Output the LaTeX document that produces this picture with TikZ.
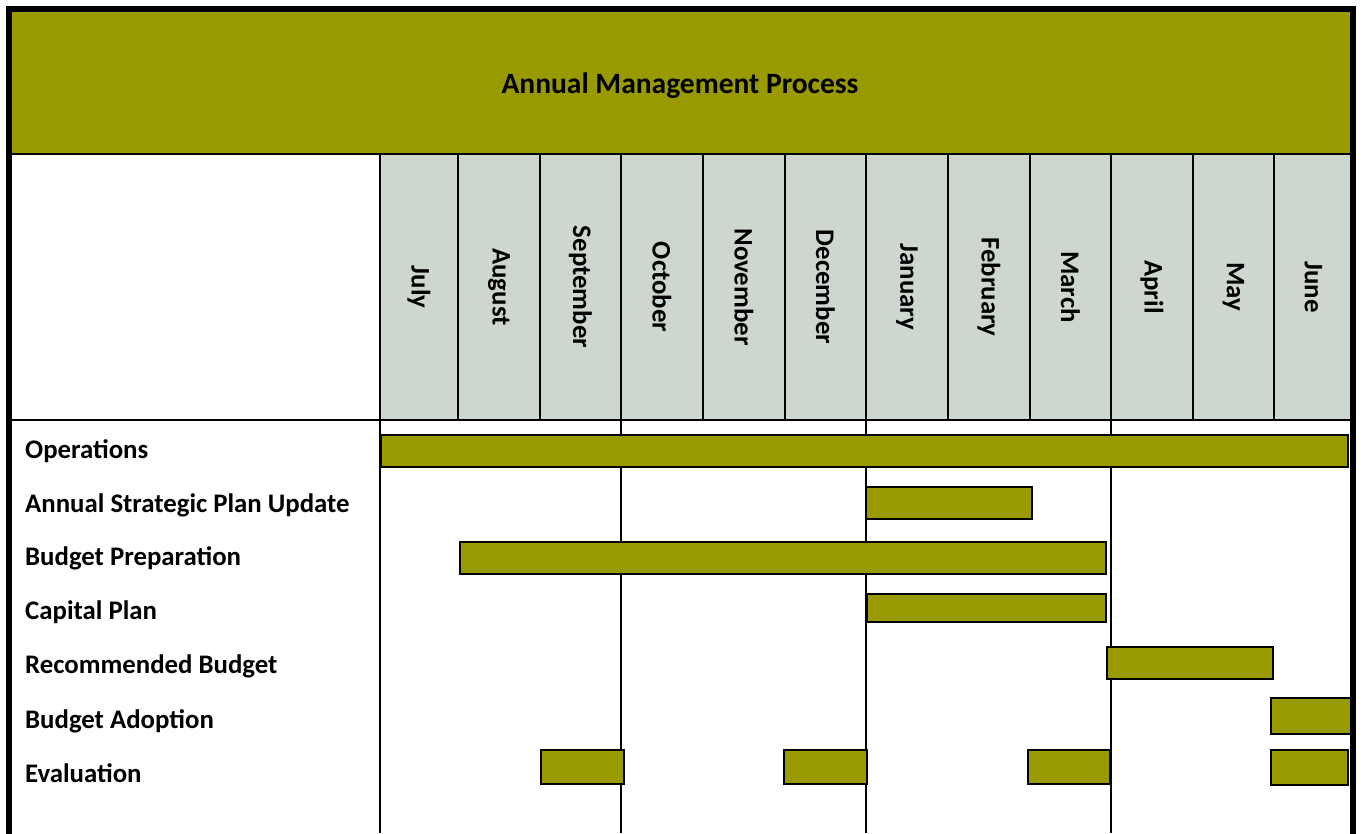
\documentclass[tikz,border=0pt]{standalone}
\usepackage{fontspec}
\setmainfont{Carlito}
\definecolor{barfill}{RGB}{153,153,0}
\definecolor{headfill}{RGB}{205,215,207}
\tikzset{
  rule/.style={line width=2bp},
  bar/.style={draw=black,fill=barfill,line width=2bp},
  lbl/.style={anchor=base west,inner sep=0pt,font=\bfseries\fontsize{26.8bp}{30bp}\selectfont},
  month/.style={rotate=-90,inner sep=0pt,font=\bfseries\fontsize{26.8bp}{30bp}\selectfont},
}
\begin{document}
\begin{tikzpicture}[x=1bp,y=-1bp,line join=miter]
\useasboundingbox (0,0) rectangle (1363,833);
\clip (0,0) rectangle (1363,833);
%%
  % Title band
  \fill [barfill] (9,9) rectangle (1353,154);
  \node [lbl,anchor=base,font=\bfseries\fontsize{29.5bp}{33bp}\selectfont] (title) at (680,93) {Annual Management Process};
  % Month header cells
  \fill [headfill] (380,154) rectangle (1353,420);
  \foreach \xl/\xr/\m in {380/458/July,458/540/August,540/621/September,
      621/703/October,703/785/November,785/866/December,866/948/January,
      948/1030/February,1030/1111/March,1111/1193/April,1193/1274/May,1274/1353/June}
    \node [month] (m-\m) at ({(\xl+\xr)/2},287) {\m};
  \foreach \x in {458,540,703,785,948,1030,1193,1274}
    \draw [rule] (\x,154) -- (\x,420);
  % Quarter rules run to the foot
  \foreach \x in {380,621,866,1111}
    \draw [rule] (\x,154) -- (\x,833);
  \draw [rule] (9,154) -- (1353,154);
  \draw [rule] (9,420) -- (1353,420);
%%
  % Rows
  \node [lbl] (ops) at (25,458) {Operations};
  \node [lbl] (plan) at (25,512) {Annual Strategic Plan Update};
  \node [lbl] (prep) at (25,565) {Budget Preparation};
  \node [lbl] (cap) at (25,619) {Capital Plan};
  \node [lbl] (rec) at (25,673) {Recommended Budget};
  \node [lbl] (adopt) at (25,728) {Budget Adoption};
  \node [lbl] (eval) at (25,782) {Evaluation};
%%
  % Bars
  \draw [bar] (381,435) rectangle (1348,467);
  \draw [bar] (866,487) rectangle (1032,519);
  \draw [bar] (460,542) rectangle (1106,574);
  \draw [bar] (867,594) rectangle (1106,622);
  \draw [bar] (1107,647) rectangle (1273,679);
  \draw [bar] (1271,698) rectangle (1352,734);
  \draw [bar] (541,750) rectangle (624,784);
  \draw [bar] (784,750) rectangle (867,784);
  \draw [bar] (1028,750) rectangle (1110,784);
  \draw [bar] (1271,750) rectangle (1348,785);
%%
  % Frame
  \draw [line width=6bp] (9,840) -- (9,9) -- (1353,9) -- (1353,840);
%
\end{tikzpicture}
\end{document}
